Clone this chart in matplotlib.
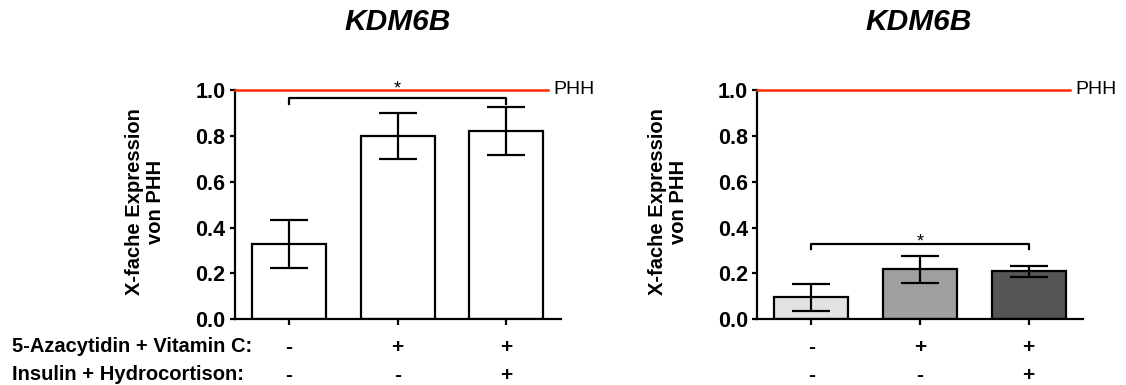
import numpy as np
import matplotlib
matplotlib.use('Agg')
import matplotlib.pyplot as plt

plt.rcParams['font.family'] = ['Liberation Sans', 'DejaVu Sans']

gene = 'KDM6B'
aza_row = ['-', '+', '+']
ins_row = ['-', '-', '+']
row_names = ['5-Azacytidin + Vitamin C:', 'Insulin + Hydrocortison:']

left_mean = [0.328, 0.798, 0.822]
left_sd = [0.105, 0.100, 0.105]
right_mean = [0.096, 0.218, 0.210]
right_sd = [0.058, 0.058, 0.024]
right_colors = ['#e3e3e3', '#a0a0a0', '#555555']

left_sig = (0, 2, 0.965, 1.004)   # von, bis, Höhe, Stern
right_sig = (0, 2, 0.33, 0.337)

fig = plt.figure(figsize=(11.26, 3.85), dpi=100)
W, H = 1126, 385


def draw_panel(ax, mean, sd, colors, sig):
    x = np.arange(len(mean))
    ax.bar(x, mean, width=0.68, color=colors, edgecolor='black', linewidth=1.6, zorder=2)
    ax.errorbar(x, mean, yerr=sd, fmt='none', ecolor='black', elinewidth=1.6,
                capsize=13.5, capthick=1.6, zorder=3)
    ax.set_xlim(-0.5, 2.5)
    ax.set_ylim(0, 1.0)
    ax.set_yticks([0, 0.2, 0.4, 0.6, 0.8, 1.0])
    ax.set_yticklabels(['%.1f' % v for v in [0, 0.2, 0.4, 0.6, 0.8, 1.0]],
                       fontsize=15.5, fontweight='bold')
    ax.set_xticks(x)
    ax.set_xticklabels([])
    ax.spines['top'].set_visible(False)
    ax.spines['right'].set_visible(False)
    ax.spines['left'].set_linewidth(1.6)
    ax.spines['bottom'].set_linewidth(1.6)
    ax.tick_params(axis='y', length=3.6, width=1.6, pad=3)
    ax.tick_params(axis='x', length=4.5, width=1.6)
    # PHH Referenzlinie
    ax.plot([-0.5, 2.38], [1, 1], color='#ff2a00', linewidth=1.8, clip_on=False, zorder=4)
    ax.text(2.43, 1.0, 'PHH', fontsize=14, va='center', ha='left')
    # Signifikanz
    a, b, h, hs = sig
    ax.plot([a, a, b, b], [h - 0.025, h, h, h - 0.025], color='black', linewidth=1.6,
            clip_on=False, zorder=5)
    ax.text((a + b) / 2, hs, '*', fontsize=13, ha='center', va='center')
    # +/- Zeilen
    tr = ax.get_xaxis_transform()
    for i in x:
        ax.text(i, -0.121, aza_row[i], transform=tr, ha='center', va='center',
                fontsize=15, fontweight='bold')
        ax.text(i, -0.243, ins_row[i], transform=tr, ha='center', va='center',
                fontsize=15, fontweight='bold')


ax1 = fig.add_axes([234.6 / W, 1 - 319.3 / H, 326 / W, 229.3 / H])
ax2 = fig.add_axes([757 / W, 1 - 319.3 / H, 326 / W, 229.3 / H])

draw_panel(ax1, left_mean, left_sd, 'white', left_sig)
draw_panel(ax2, right_mean, right_sd, right_colors, right_sig)

for ax, xc in [(ax1, 145), (ax2, 668)]:
    fig.text(xc / W, 1 - 202 / H, 'X-fache Expression\nvon PHH', rotation=90,
             ha='center', va='center', fontsize=14.5, fontweight='bold', linespacing=1.1)

fig.text(398 / W, 1 - 22 / H, gene, ha='center', va='center', fontsize=21.5,
         fontweight='bold', fontstyle='italic')
fig.text(919 / W, 1 - 22 / H, gene, ha='center', va='center', fontsize=21.5,
         fontweight='bold', fontstyle='italic')

fig.text(12 / W, 1 - 347 / H, row_names[0], ha='left', va='center', fontsize=14.5,
         fontweight='bold')
fig.text(12 / W, 1 - 375 / H, row_names[1], ha='left', va='center', fontsize=14.5,
         fontweight='bold')

fig.savefig('out.png', dpi=100)
